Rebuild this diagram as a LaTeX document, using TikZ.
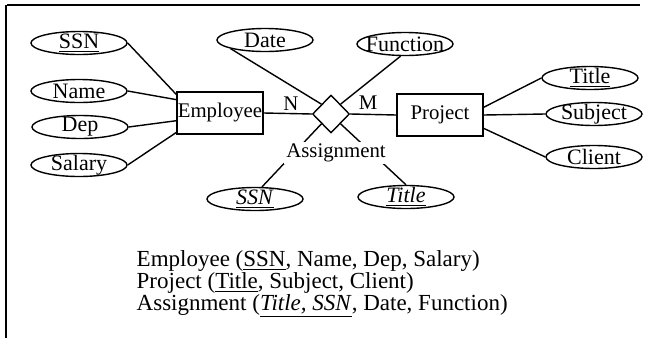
\documentclass[tikz,border=0pt]{standalone}
\usepackage{fontspec}
\setmainfont{Liberation Serif}
\usetikzlibrary{shapes.geometric}

\begin{document}
\begin{tikzpicture}[x=0.5pt,y=-0.5pt,line width=0.7pt,
  attr/.style={draw,ellipse,minimum width=48pt,minimum height=11.5pt,inner sep=-4pt,font=\fontsize{11}{12}\selectfont},
  entity/.style={draw,rectangle,minimum width=43pt,minimum height=21pt,inner sep=0pt,font=\fontsize{10.4}{12}\selectfont},
  relship/.style={draw,diamond,minimum width=18.5pt,minimum height=19pt,inner sep=0pt},
  card/.style={inner sep=0pt,font=\fontsize{10.4}{12}\selectfont},
  schema/.style={anchor=base west,inner sep=0pt,font=\fontsize{11.5}{12}\selectfont}]

\useasboundingbox (0,0) rectangle (653,338);

% frame
\draw[line width=0.75pt] (7,5) -- (640,5);
\draw[line width=0.75pt] (6,5) -- (6,338);

% entities and relationship
\node[entity] (emp) at (220,113) {Employee};
\node[entity] (proj) at (440,115) {Project};
\node[relship] (asg) at (331,114) {};

% attributes
\node[attr] (ssn) at (79,43) {\underline{SSN}};
\node[attr] (name) at (79,91) {Name};
\node[attr] (dep) at (80,127) {Dep};
\node[attr] (salary) at (79,165) {Salary};
\node[attr] (date) at (265,40) {Date};
\node[attr] (func) at (405,44) {Function};
\node[attr] (title) at (590,78) {\underline{Title}};
\node[attr] (subject) at (594,114) {Subject};
\node[attr] (client) at (594,157) {Client};
\node[attr] (assn) at (255,199) {\underline{\textit{SSN}}};
\node[attr] (atitle) at (406,197) {\underline{\textit{Title}}};

\draw (ssn.east) -- (emp.157);
\draw (name.east) -- (emp.163);
\draw (dep.east) -- (emp.190);
\draw (salary.east) -- (emp.204);

\draw (title.west) -- (proj.10);
\draw (subject.west) -- (proj.east);
\draw (client.west) -- (proj.-17);

\draw (emp.east) -- (asg.west);
\draw (asg.east) -- (proj.west);
\draw (date.south west) -- (asg.north west);
\draw (func.250) -- (asg.north east);
\draw (asg.south west) -- (assn.60);
\draw (asg.south east) -- (atitle.north);

\node[card] (n) at (291,104) {N};
\node[card] (m) at (368,103) {M};
\node[card,fill=white,inner sep=1pt] (asglabel) at (336,153) {Assignment};

% relational schema
\node[schema] (rel1) at (136,266) {Employee (\underline{SSN}, Name, Dep, Salary)};
\node[schema] (rel2) at (136,288) {Project (\underline{Title}, Subject, Client)};
\node[schema] (rel3) at (136,310) {Assignment (\underline{\textit{Title, SSN}}, Date, Function)};

\end{tikzpicture}
\end{document}
